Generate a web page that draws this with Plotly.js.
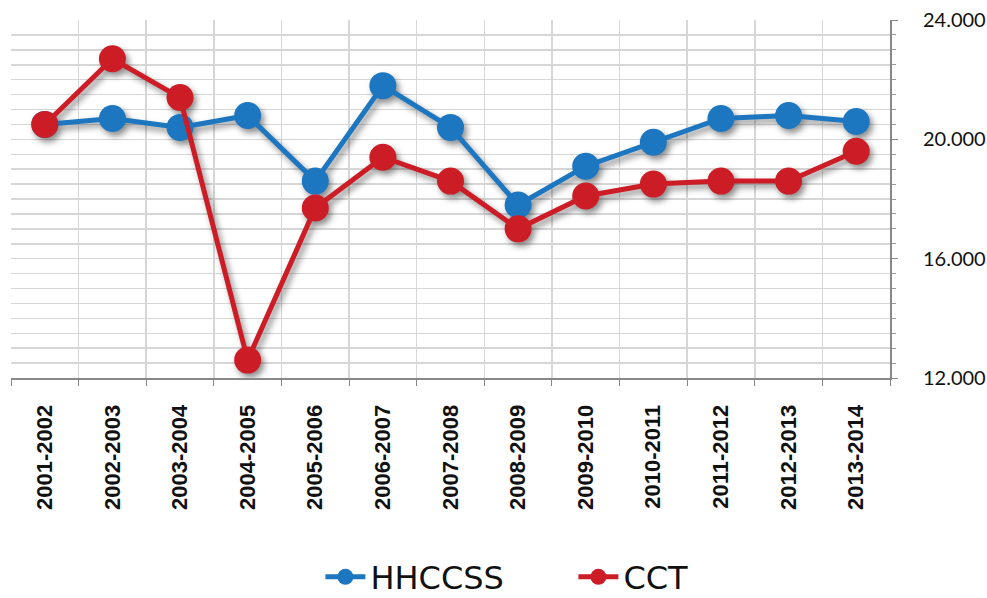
<!DOCTYPE html>
<html>
<head>
<meta charset="utf-8">
<script src="https://cdn.plot.ly/plotly-3.0.1.min.js"></script>
<style>
html,body{margin:0;padding:0;background:#fff;}
#chart{width:987px;height:598px;}
#chart .scatterlayer{filter:drop-shadow(3px 4px 3px rgba(0,0,0,0.45));}
</style>
</head>
<body>
<div id="chart"></div>
<script>
const categories = ["2001-2002","2002-2003","2003-2004","2004-2005","2005-2006","2006-2007","2007-2008","2008-2009","2009-2010","2010-2011","2011-2012","2012-2013","2013-2014"];
const hhccss = [20500, 20700, 20400, 20800, 18600, 21800, 20400, 17800, 19100, 19900, 20700, 20800, 20600];
const cct = [20500, 22700, 21400, 12600, 17700, 19400, 18600, 17000, 18100, 18500, 18600, 18600, 19600];
const yTicks = [12000, 16000, 20000, 24000];

const blue = "#1c76c0";
const red = "#cc1d26";

const traces = [
  {x: categories, y: hhccss, name: "HHCCSS", type: "scatter", mode: "lines+markers",
   line: {color: blue, width: 5}, marker: {color: blue, size: 27}},
  {x: categories, y: cct, name: "CCT", type: "scatter", mode: "lines+markers",
   line: {color: red, width: 5}, marker: {color: red, size: 27}}
];

const layout = {
  width: 987, height: 598,
  margin: {l: 11, r: 97, t: 20, b: 220, autoexpand: false},
  paper_bgcolor: "#ffffff", plot_bgcolor: "#ffffff",
  separators: ",.",
  showlegend: true,
  legend: {orientation: "h", x: 0.352, xanchor: "left", y: -0.556, yanchor: "middle",
           font: {family: "'DejaVu Sans', sans-serif", size: 32, color: "#111"},
           entrywidth: 198, entrywidthmode: "pixels",
           itemwidth: 40, tracegroupgap: 0},
  xaxis: {type: "category", range: [-0.5, 12.5], tickson: "boundaries",
          ticks: "outside", ticklen: 6, tickcolor: "#888",
          showgrid: true, gridcolor: "#d6d6d6", gridwidth: 1.5,
          showline: true, linecolor: "#888", linewidth: 2,
          tickangle: -90, automargin: false,
          ticklabelstandoff: 16,
          tickfont: {family: "'Liberation Sans', Arial, sans-serif", size: 22, color: "#111", weight: "bold"},
          fixedrange: true},
  yaxis: {side: "right", range: [12000, 24000], tickvals: yTicks, tickformat: ",d",
          ticks: "outside", ticklen: 6, tickcolor: "#888",
          showgrid: true, gridcolor: "#d6d6d6", gridwidth: 1.5,
          showline: true, linecolor: "#888", linewidth: 2,
          zeroline: false, automargin: false,
          minor: {dtick: 500, showgrid: true, gridcolor: "#d6d6d6", gridwidth: 1.5, ticks: "outside", ticklen: 4, tickcolor: "#999"},
          tickfont: {family: "Lato, 'Open Sans', sans-serif", size: 20, color: "#111"},
          ticklabelstandoff: 21,
          fixedrange: true}
};

Plotly.newPlot("chart", traces, layout, {displayModeBar: false, staticPlot: true});
</script>
</body>
</html>
